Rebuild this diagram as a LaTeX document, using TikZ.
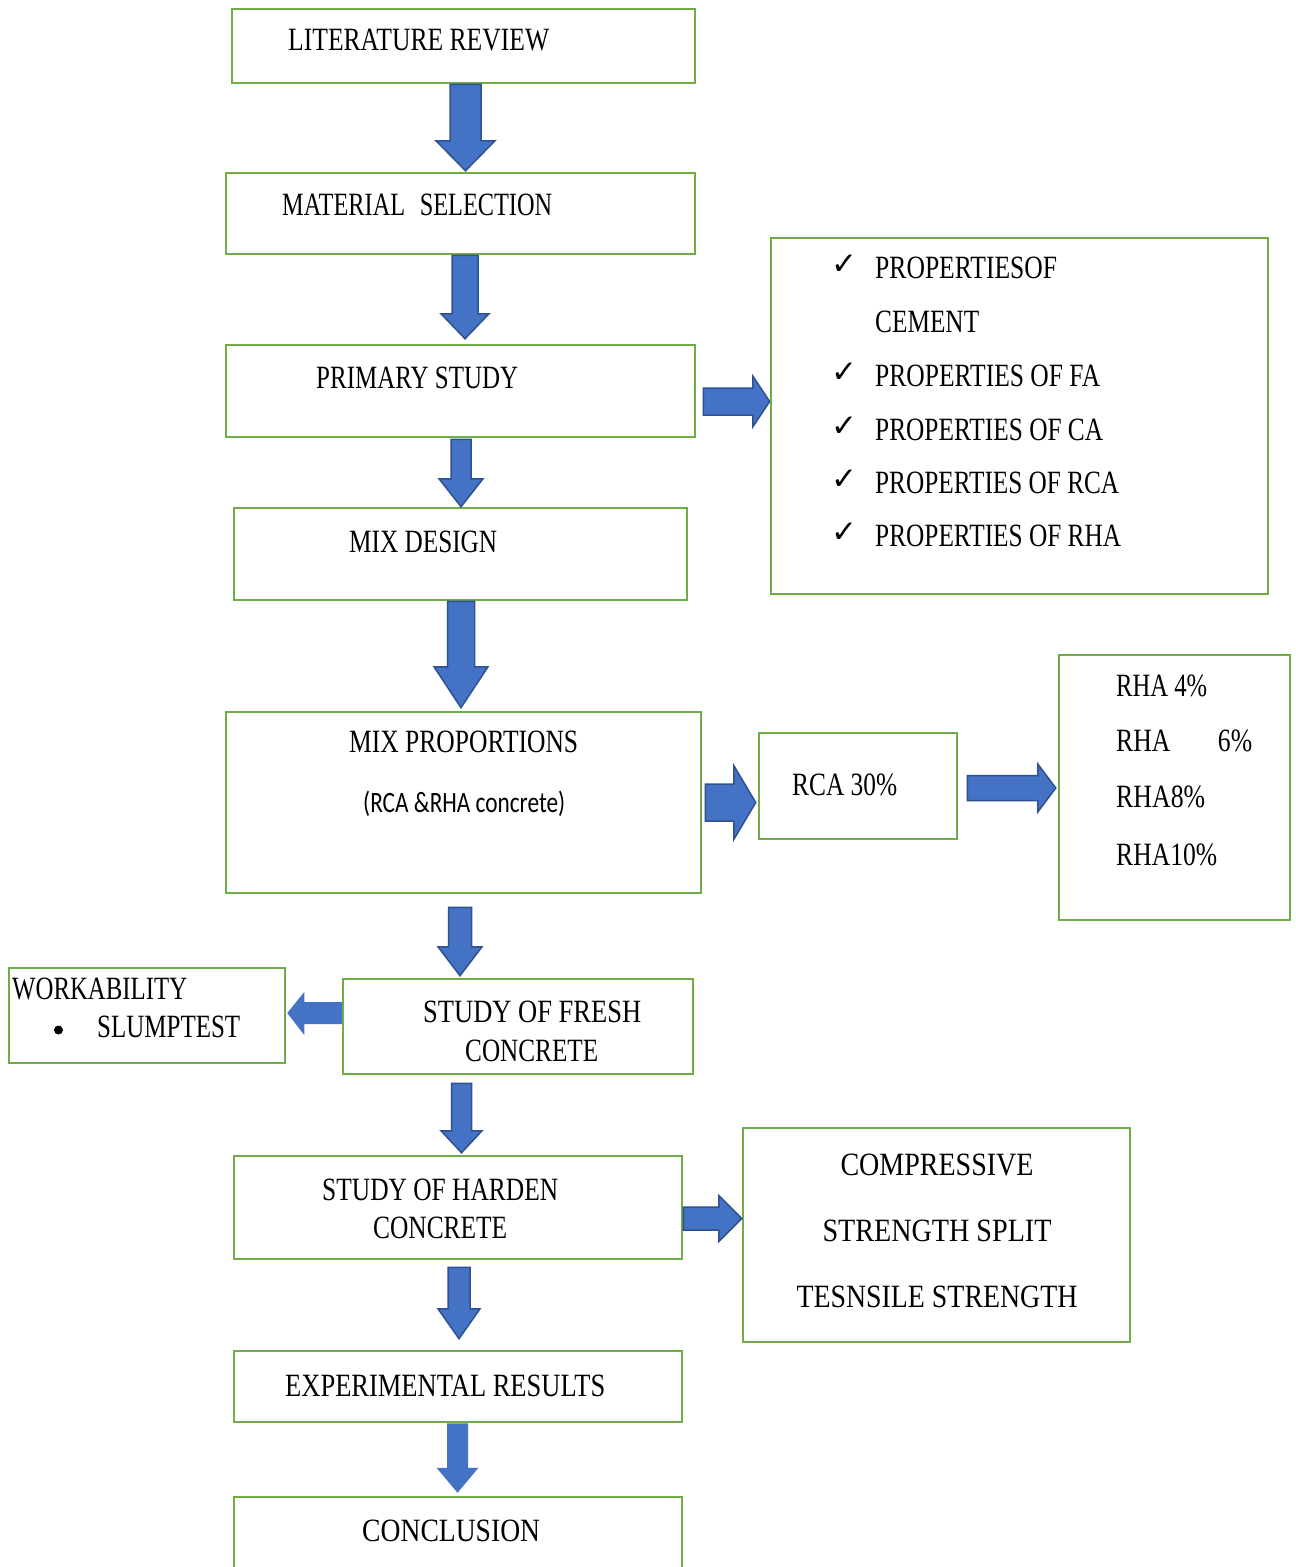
\documentclass[tikz,border=0pt]{standalone}
\usepackage{fontspec}
\setmainfont{Liberation Serif}
\newfontfamily\calfont{Carlito}
\newfontfamily\symfont{DejaVu Sans}
\usetikzlibrary{calc}
\definecolor{boxgreen}{HTML}{70AD47}
\definecolor{arrowblue}{HTML}{4472C4}
\definecolor{arrowedge}{HTML}{2F528F}
\newcommand{\tw}[2]{\resizebox{#1pt}{\height}{#2}}
% vertical block arrow: [style]{x}{from}{start offset}{to}{tip gap}{shaft half}{head half}{head length}
\newcommand{\vblk}[9][blk]{%
  \draw[#1] let \p1=(#3), \p2=(#5) in
    (#2pt-#7pt,\y1-#4pt) -- (#2pt+#7pt,\y1-#4pt)
    -- (#2pt+#7pt,\y2+#6pt+#9pt) -- (#2pt+#8pt,\y2+#6pt+#9pt)
    -- (#2pt,\y2+#6pt)
    -- (#2pt-#8pt,\y2+#6pt+#9pt) -- (#2pt-#7pt,\y2+#6pt+#9pt) -- cycle;}
% rightward block arrow: [style]{y}{from}{start offset}{to}{tip gap}{shaft half}{head half}{head length}
\newcommand{\hblk}[9][blk]{%
  \draw[#1] let \p1=(#3), \p2=(#5) in
    (\x1+#4pt,-#2pt+#7pt) -- (\x1+#4pt,-#2pt-#7pt)
    -- (\x2-#6pt-#9pt,-#2pt-#7pt) -- (\x2-#6pt-#9pt,-#2pt-#8pt)
    -- (\x2-#6pt,-#2pt)
    -- (\x2-#6pt-#9pt,-#2pt+#8pt) -- (\x2-#6pt-#9pt,-#2pt+#7pt) -- cycle;}
\begin{document}
\begin{tikzpicture}[x=1pt,y=-1pt,
  box/.style={draw=boxgreen,line width=2.5pt,inner sep=0pt,fill=white},
  txt/.style={inner sep=0pt,anchor=base west,font=\fontsize{32.5}{39}\selectfont},
  ctxt/.style={inner sep=0pt,anchor=base,font=\fontsize{32.5}{39}\selectfont},
  calt/.style={inner sep=0pt,anchor=base west,font=\calfont\fontsize{29.5}{35}\selectfont},
  chk/.style={inner sep=0pt,anchor=base west,font=\symfont\bfseries\fontsize{31}{36}\selectfont},
  blk/.style={fill=arrowblue,draw=arrowedge,line width=1.5pt,line join=miter},
  blkflat/.style={fill=arrowblue,draw=none}]
\fill[white] (0,0) rectangle (1296,1567);
\useasboundingbox (0,0) rectangle (1296,1567);
\clip (0,0) rectangle (1296,1567);

% boxes
\node[box,minimum width=463pt,minimum height=74pt] (lr) at (463.5,46) {};
\node[box,minimum width=469pt,minimum height=81pt] (ms) at (460.5,213.5) {};
\node[box,minimum width=469pt,minimum height=92pt] (ps) at (460.5,391) {};
\node[box,minimum width=453pt,minimum height=92pt] (md) at (460.5,554) {};
\node[box,minimum width=475pt,minimum height=181pt] (mp) at (463.5,802.5) {};
\node[box,minimum width=350pt,minimum height=95pt] (sfc) at (518,1026.5) {};
\node[box,minimum width=276pt,minimum height=95pt] (wk) at (147,1015.5) {};
\node[box,minimum width=448pt,minimum height=103pt] (hc) at (458,1207.5) {};
\node[box,minimum width=387pt,minimum height=214pt] (cp) at (936.5,1235) {};
\node[box,minimum width=448pt,minimum height=71pt] (er) at (458,1386.5) {};
\node[box,minimum width=448pt,minimum height=93pt] (cc) at (458,1543.5) {};
\node[box,minimum width=497pt,minimum height=356pt] (pr) at (1019.5,416) {};
\node[box,minimum width=198pt,minimum height=106pt] (rc) at (858,786) {};
\node[box,minimum width=231pt,minimum height=265pt] (rh) at (1174.5,787.5) {};

% texts
\node[txt] (t-lr) at (288,50) {\tw{261}{LITERATURE REVIEW}};
\node[txt] (t-ms) at (282,215) {\tw{270}{MATERIAL\hspace{0.6em}SELECTION}};
\node[txt] (t-ps) at (316,388) {\tw{202}{PRIMARY STUDY}};
\node[txt] (t-md) at (349,552) {\tw{148}{MIX DESIGN}};
\node[txt] (t-mp) at (349,752) {\tw{229}{MIX PROPORTIONS}};
\node[calt] (t-mp2) at (363,812) {\tw{202}{(RCA \&RHA concrete)}};
\node[txt] (t-sfc1) at (423,1022) {\tw{218}{STUDY OF FRESH}};
\node[txt] (t-sfc2) at (465,1061) {\tw{133}{CONCRETE}};
\node[txt] (t-wk1) at (12,999) {\tw{175}{WORKABILITY}};
\fill (58.5,1030) circle (4.5pt);
\node[txt] (t-wk2) at (97,1037) {\tw{143}{SLUMPTEST}};
\node[txt] (t-hc1) at (322,1200) {\tw{236}{STUDY OF HARDEN}};
\node[txt] (t-hc2) at (373,1238) {\tw{134}{CONCRETE}};
\node[ctxt] (t-cp1) at (937,1175) {\tw{193}{COMPRESSIVE}};
\node[ctxt] (t-cp2) at (937,1241) {\tw{229}{STRENGTH SPLIT}};
\node[ctxt] (t-cp3) at (937,1307) {\tw{281}{TESNSILE STRENGTH}};
\node[txt] (t-er) at (285,1396) {\tw{320}{EXPERIMENTAL RESULTS}};
\node[txt] (t-cc) at (362,1541) {\tw{178}{CONCLUSION}};

\node[chk] (c1) at (831,274) {✓};
\node[txt] (p1) at (875,278) {\tw{182}{PROPERTIESOF}};
\node[txt] (p1b) at (875,332) {\tw{104}{CEMENT}};
\node[chk] (c2) at (831,382) {✓};
\node[txt] (p2) at (875,386) {\tw{225}{PROPERTIES OF FA}};
\node[chk] (c3) at (831,436) {✓};
\node[txt] (p3) at (875,440) {\tw{228}{PROPERTIES OF CA}};
\node[chk] (c4) at (831,489) {✓};
\node[txt] (p4) at (875,493) {\tw{244}{PROPERTIES OF RCA}};
\node[chk] (c5) at (831,542) {✓};
\node[txt] (p5) at (875,546) {\tw{246}{PROPERTIES OF RHA}};

\node[txt] (t-rc) at (792,795) {\tw{105}{RCA 30\%}};
\node[txt] (r1) at (1116,696) {\tw{91}{RHA 4\%}};
\node[txt] (r2) at (1116,751) {\tw{136}{RHA\hspace{60pt}6\%}};
\node[txt] (r3) at (1116,807) {\tw{89}{RHA8\%}};
\node[txt] (r4) at (1116,865) {\tw{101}{RHA10\%}};

% vertical arrows
\vblk{465.5}{lr.south}{0}{ms.north}{1}{15.5}{29.5}{30}
\vblk{465}{ms.south}{0}{ps.north}{5}{13}{24}{25}
\vblk{461}{ps.south}{1}{md.north}{0}{10}{22}{28}
\vblk{461}{md.south}{0}{mp.north}{3}{13.5}{27}{41}
\vblk{460}{mp.south}{13}{sfc.north}{2}{11.5}{22}{29}
\vblk{461.5}{sfc.south}{8}{hc.north}{2}{10}{20.5}{22}
\vblk{459}{hc.south}{7}{er.north}{11}{11}{21}{30}
\vblk[blkflat]{457.5}{er.south}{0}{cc.north}{3}{10.5}{21}{25}

% horizontal arrows
\hblk{401.5}{ps.east}{7}{pr.west}{0}{13.5}{25.5}{17}
\hblk{802.5}{mp.east}{3}{rc.west}{2}{18.5}{37}{22}
\hblk{788}{rc.east}{9}{rh.west}{2}{12.5}{24}{18}
\hblk{1218.5}{hc.east}{0}{cp.west}{0}{11.5}{23}{23}
\draw[blkflat] let \p1=(sfc.west), \p2=(wk.east) in
  (\x1,-1002pt) -- (\x1,-1024pt) -- (\x2+18pt,-1024pt) -- (\x2+18pt,-1035pt)
  -- (\x2+1pt,-1013pt) -- (\x2+18pt,-992pt) -- (\x2+18pt,-1002pt) -- cycle;
\end{tikzpicture}
\end{document}
